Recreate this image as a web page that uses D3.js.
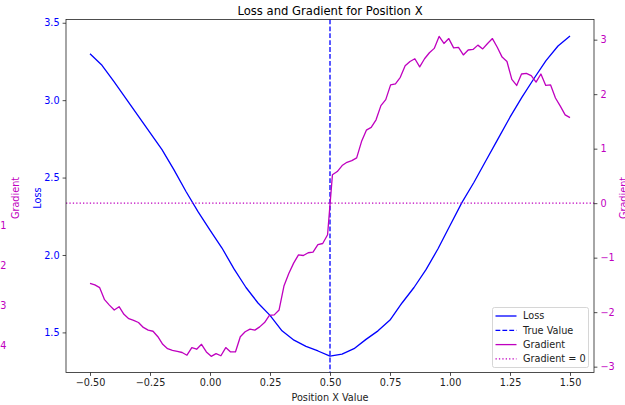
<!DOCTYPE html>
<html>
<head>
<meta charset="utf-8">
<script src="https://cdn.jsdelivr.net/npm/d3@7"></script>
<style>
  html, body { margin: 0; padding: 0; background: #fff; }
  svg { display: block; font-family: "DejaVu Sans", sans-serif; }
</style>
</head>
<body>
<svg id="chart" width="625" height="405"></svg>
<script>
// Position X sweep and tick values
const xTicks = [-0.5, -0.25, 0, 0.25, 0.5, 0.75, 1.0, 1.25, 1.5];
const lossTicks = [1.5, 2.0, 2.5, 3.0, 3.5];
const gradTicks = [-3, -2, -1, 0, 1, 2, 3];
const trueValue = 0.5;

// Loss sampled every 0.05 from -0.5 to 1.5
const lossValues = [
  3.30, 3.225, 3.12, 3.01, 2.90, 2.79, 2.68, 2.55, 2.41, 2.28,
  2.16, 2.045, 1.91, 1.79, 1.69, 1.61, 1.51, 1.45, 1.41, 1.38,
  1.347, 1.36, 1.395, 1.455, 1.51, 1.58, 1.69, 1.79, 1.905, 2.04,
  2.19, 2.34, 2.47, 2.61, 2.75, 2.89, 3.02, 3.14, 3.255, 3.35,
  3.415
];

// Gradient sampled at 100 evenly spaced positions from -0.5 to 1.5
const gradValues = [
  -1.47, -1.50, -1.55, -1.77, -1.87, -1.96, -1.90, -2.04, -2.12, -2.15,
  -2.19, -2.28, -2.33, -2.35, -2.45, -2.59, -2.67, -2.70, -2.72, -2.74,
  -2.79, -2.65, -2.68, -2.59, -2.73, -2.81, -2.76, -2.80, -2.65, -2.73,
  -2.73, -2.45, -2.36, -2.31, -2.33, -2.27, -2.19, -2.06, -2.05, -1.96,
  -1.52, -1.29, -1.10, -0.95, -0.96, -0.91, -0.90, -0.76, -0.74, -0.58,
  0.52, 0.58, 0.69, 0.75, 0.78, 0.83, 1.13, 1.34, 1.39, 1.53,
  1.79, 1.90, 2.17, 2.19, 2.31, 2.52, 2.60, 2.65, 2.50, 2.65,
  2.76, 2.84, 3.06, 2.93, 3.02, 2.85, 2.86, 2.72, 2.81, 2.82,
  2.90, 2.83, 2.93, 3.02, 2.86, 2.68, 2.60, 2.27, 2.16, 2.37,
  2.38, 2.34, 2.22, 2.37, 2.16, 2.17, 1.93, 1.78, 1.62, 1.57
];

const lossX = lossValues.map((_, i) => -0.5 + i * 0.05);
const gradX = gradValues.map((_, i) => -0.5 + i * 2 / (gradValues.length - 1));

const BLUE = "#0000ff";
const MAG = "#bf00bf";

const svg = d3.select("#chart");
const L = 66, R = 594, T = 19.5, B = 372.5;

const x = d3.scaleLinear().domain([-0.6, 1.6]).range([L, R]);
const yLoss = d3.scaleLinear().domain([1.241, 3.521]).range([B, T]);
const yGrad = d3.scaleLinear().domain([-3.107, 3.37]).range([B, T]);

// Loss curve
svg.append("path")
  .datum(lossValues.map((v, i) => [lossX[i], v]))
  .attr("fill", "none").attr("stroke", BLUE).attr("stroke-width", 1.3)
  .attr("stroke-linejoin", "round")
  .attr("d", d3.line().x(d => x(d[0])).y(d => yLoss(d[1])));

// True value marker
svg.append("line")
  .attr("x1", x(trueValue)).attr("x2", x(trueValue))
  .attr("y1", T).attr("y2", B)
  .attr("stroke", BLUE).attr("stroke-width", 1.3)
  .attr("stroke-dasharray", "4.8,2.1");

// Gradient curve
svg.append("path")
  .datum(gradValues.map((v, i) => [gradX[i], v]))
  .attr("fill", "none").attr("stroke", MAG).attr("stroke-width", 1.3)
  .attr("stroke-linejoin", "round")
  .attr("d", d3.line().x(d => x(d[0])).y(d => yGrad(d[1])));

// Zero-gradient reference
svg.append("line")
  .attr("x1", L).attr("x2", R)
  .attr("y1", yGrad(0)).attr("y2", yGrad(0))
  .attr("stroke", MAG).attr("stroke-width", 1.3)
  .attr("stroke-dasharray", "1.3,2.1");

// Frame
svg.append("rect")
  .attr("x", L).attr("y", T).attr("width", R - L).attr("height", B - T)
  .attr("fill", "none").attr("stroke", "#222").attr("stroke-width", 0.8);

const fs = 9.7;
function styleAxis(g, color) {
  g.select(".domain").remove();
  g.selectAll(".tick line").attr("stroke", "#222").attr("stroke-width", 0.8);
  g.selectAll(".tick text").attr("fill", color).style("font-size", fs + "px")
    .style("font-family", "DejaVu Sans, sans-serif");
}

svg.append("g").attr("transform", `translate(0,${B})`)
  .call(d3.axisBottom(x).tickValues(xTicks).tickFormat(d3.format(".2f")).tickSize(3.4).tickPadding(3))
  .call(g => styleAxis(g, "#222"));

svg.append("g").attr("transform", `translate(${L},0)`)
  .call(d3.axisLeft(yLoss).tickValues(lossTicks).tickFormat(d3.format(".1f")).tickSize(3.4).tickPadding(3))
  .call(g => styleAxis(g, BLUE));

svg.append("g").attr("transform", `translate(${R},0)`)
  .call(d3.axisRight(yGrad).tickValues(gradTicks).tickFormat(d3.format("d")).tickSize(3.4).tickPadding(3))
  .call(g => styleAxis(g, MAG));

// Title and axis labels
svg.append("text").attr("x", (L + R) / 2).attr("y", 14.5)
  .attr("text-anchor", "middle").style("font-size", "11.6px").attr("fill", "#000")
  .text("Loss and Gradient for Position X");

svg.append("text").attr("x", (L + R) / 2).attr("y", 401)
  .attr("text-anchor", "middle").style("font-size", fs + "px").attr("fill", "#222")
  .text("Position X Value");

svg.append("text").attr("transform", "translate(40.5,198) rotate(-90)")
  .attr("text-anchor", "middle").style("font-size", fs + "px").attr("fill", BLUE)
  .text("Loss");

svg.append("text").attr("transform", "translate(627,198) rotate(-90)")
  .attr("text-anchor", "middle").style("font-size", fs + "px").attr("fill", MAG)
  .text("Gradient");

// Offset gradient scale at the left edge
svg.append("text").attr("transform", "translate(18.8,198) rotate(-90)")
  .attr("text-anchor", "middle").style("font-size", fs + "px").attr("fill", MAG)
  .text("Gradient");

const edgeTicks = ["−1", "−2", "−3", "−4"];
const edgeScale = d3.scalePoint().domain(edgeTicks).range([225.7, 345.7]);
svg.append("g").selectAll("text").data(edgeTicks).join("text")
  .attr("x", 6.5).attr("y", d => edgeScale(d)).attr("dy", "0.32em")
  .attr("text-anchor", "end").style("font-size", fs + "px").attr("fill", MAG)
  .text(d => d);

// Legend
const legendItems = [
  { label: "Loss", color: BLUE, dash: null },
  { label: "True Value", color: BLUE, dash: "4.8,2.1" },
  { label: "Gradient", color: MAG, dash: null },
  { label: "Gradient = 0", color: MAG, dash: "1.3,2.1" }
];
const lg = svg.append("g").attr("transform", "translate(492.5,307.5)");
lg.append("rect").attr("width", 96).attr("height", 60).attr("rx", 2)
  .attr("fill", "#fff").attr("fill-opacity", 0.8)
  .attr("stroke", "#cccccc").attr("stroke-width", 0.8);
legendItems.forEach((it, i) => {
  const cy = 8.5 + i * 14.3;
  lg.append("line").attr("x1", 3).attr("x2", 24).attr("y1", cy).attr("y2", cy)
    .attr("stroke", it.color).attr("stroke-width", 1.3)
    .attr("stroke-dasharray", it.dash);
  lg.append("text").attr("x", 30.5).attr("y", cy).attr("dy", "0.35em")
    .style("font-size", fs + "px").attr("fill", "#222").text(it.label);
});
</script>
</body>
</html>
